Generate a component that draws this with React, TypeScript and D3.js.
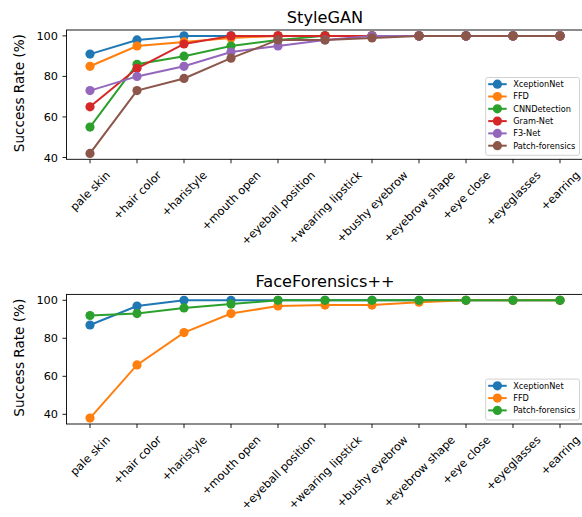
import React, { useEffect, useRef } from "react";
import * as d3 from "d3";

const categories = [
  "pale skin", "+hair color", "+haristyle", "+mouth open", "+eyeball position",
  "+wearing lipstick", "+bushy eyebrow", "+eyebrow shape", "+eye close", "+eyeglasses", "+earring",
];

// StyleGAN
const styleXception = [91, 98, 100, 100, 100, 100, 100, 100, 100, 100, 100];
const styleFFD = [85, 95, 97, 99, 100, 100, 100, 100, 100, 100, 100];
const styleCNN = [55, 86, 90, 95, 98, 100, 100, 100, 100, 100, 100];
const styleGram = [65, 84, 96, 100, 100, 100, 100, 100, 100, 100, 100];
const styleF3 = [73, 80, 85, 92, 95, 98, 100, 100, 100, 100, 100];
const stylePatch = [42, 73, 79, 89, 98, 98, 99, 100, 100, 100, 100];

// FaceForensics++
const ffXception = [87, 97, 100, 100, 100, 100, 100, 100, 100, 100, 100];
const ffFFD = [38, 66, 83, 93, 97, 97.5, 97.5, 99, 100, 100, 100];
const ffPatch = [92, 93, 96, 98, 100, 100, 100, 100, 100, 100, 100];

const yTicks = [40, 60, 80, 100];

const panels = [
  {
    title: "StyleGAN",
    top: 30,
    bottom: 159.3,
    series: [
      { name: "XceptionNet", color: "#1f77b4", values: styleXception },
      { name: "FFD", color: "#ff7f0e", values: styleFFD },
      { name: "CNNDetection", color: "#2ca02c", values: styleCNN },
      { name: "Gram-Net", color: "#d62728", values: styleGram },
      { name: "F3-Net", color: "#9467bd", values: styleF3 },
      { name: "Patch-forensics", color: "#8c564b", values: stylePatch },
    ],
  },
  {
    title: "FaceForensics++",
    top: 294.4,
    bottom: 424,
    series: [
      { name: "XceptionNet", color: "#1f77b4", values: ffXception },
      { name: "FFD", color: "#ff7f0e", values: ffFFD },
      { name: "Patch-forensics", color: "#2ca02c", values: ffPatch },
    ],
  },
];

const FONT = "DejaVu Sans, sans-serif";

export default function App() {
  const svgRef = useRef<SVGSVGElement>(null);

  useEffect(() => {
    if (!svgRef.current) return;
    const root = d3.select(svgRef.current);
    root.selectAll("*").remove();

    const left = 66.5;
    const right = 583.5;

    const x = d3.scalePoint<string>().domain(categories).range([left, right]).padding(0.5);

    panels.forEach((p) => {
      const g = root.append("g");
      const all = p.series.flatMap((s) => s.values);
      const [mn, mx] = d3.extent(all) as [number, number];
      const m = (mx - mn) * 0.05;
      const y = d3.scaleLinear().domain([mn - m, mx + m]).range([p.bottom, p.top]);

      // lines + markers
      p.series.forEach((s) => {
        const line = d3.line<number>().x((_, i) => x(categories[i])!).y((d) => y(d));
        g.append("path").datum(s.values).attr("fill", "none").attr("stroke", s.color)
          .attr("stroke-width", 2).attr("d", line);
        g.selectAll(null).data(s.values).enter().append("circle")
          .attr("cx", (_, i) => x(categories[i])!).attr("cy", (d) => y(d))
          .attr("r", 4.6).attr("fill", s.color);
      });

      // spines
      g.append("rect").attr("x", left).attr("y", p.top).attr("width", right - left)
        .attr("height", p.bottom - p.top).attr("fill", "none").attr("stroke", "#000").attr("stroke-width", 0.9);

      // y ticks
      yTicks.forEach((t) => {
        g.append("line").attr("x1", left - 4).attr("x2", left).attr("y1", y(t)).attr("y2", y(t))
          .attr("stroke", "#000").attr("stroke-width", 0.9);
        g.append("text").attr("x", left - 8.5).attr("y", y(t)).attr("dy", "0.36em")
          .attr("text-anchor", "end").style("font-family", FONT).style("font-size", "11.3px")
          .attr("fill", "#000").text(t);
      });

      // x ticks + rotated labels (rotated box centred on the tick)
      categories.forEach((c) => {
        const cx = x(c)!;
        g.append("line").attr("x1", cx).attr("x2", cx).attr("y1", p.bottom).attr("y2", p.bottom + 4)
          .attr("stroke", "#000").attr("stroke-width", 0.9);
        const txt = g.append("text").attr("text-anchor", "middle").attr("dy", "0.36em")
          .style("font-family", FONT).style("font-size", "11.3px").attr("fill", "#000").text(c);
        const w = (txt.node() as SVGTextElement).getComputedTextLength();
        const h = 11.3 * 1.16;
        const cy = p.bottom + 9 + 0.7071 * (w + h) / 2;
        txt.attr("transform", `translate(${cx},${cy}) rotate(-45)`);
      });

      // title
      g.append("text").attr("x", (left + right) / 2).attr("y", p.top - 7.4).attr("text-anchor", "middle")
        .style("font-family", FONT).style("font-size", "16.2px").attr("fill", "#000").text(p.title);

      // y label
      g.append("text").attr("transform", `translate(24,${(p.top + p.bottom) / 2 - 1.5}) rotate(-90)`)
        .attr("text-anchor", "middle").style("font-family", FONT).style("font-size", "13.6px")
        .attr("fill", "#000").text("Success Rate (%)");

      // legend
      const rowH = 12.3;
      const legBottom = p.bottom - 4;
      const legTop = legBottom - (p.series.length * rowH + 4);
      const legLeft = 485.7;
      const legRight = 579.5;
      g.append("rect").attr("x", legLeft).attr("y", legTop).attr("width", legRight - legLeft)
        .attr("height", legBottom - legTop).attr("rx", 2).attr("fill", "#fff").attr("fill-opacity", 0.8)
        .attr("stroke", "#cccccc").attr("stroke-width", 0.9);
      p.series.forEach((s, i) => {
        const ly = legTop + 6.7 + i * rowH;
        g.append("line").attr("x1", legLeft + 2.5).attr("x2", legLeft + 21).attr("y1", ly).attr("y2", ly)
          .attr("stroke", s.color).attr("stroke-width", 2);
        g.append("circle").attr("cx", legLeft + 11.7).attr("cy", ly).attr("r", 4.6).attr("fill", s.color);
        g.append("text").attr("x", legLeft + 27.5).attr("y", ly).attr("dy", "0.36em")
          .style("font-family", FONT).style("font-size", "8.2px").attr("fill", "#000").text(s.name);
      });
    });
  }, []);

  return (
    <div style={{ position: "absolute", left: 0, top: 0, width: 582, height: 517, background: "#fff" }}>
      <svg ref={svgRef} width={582} height={517} style={{ display: "block" }}></svg>
    </div>
  );
}
